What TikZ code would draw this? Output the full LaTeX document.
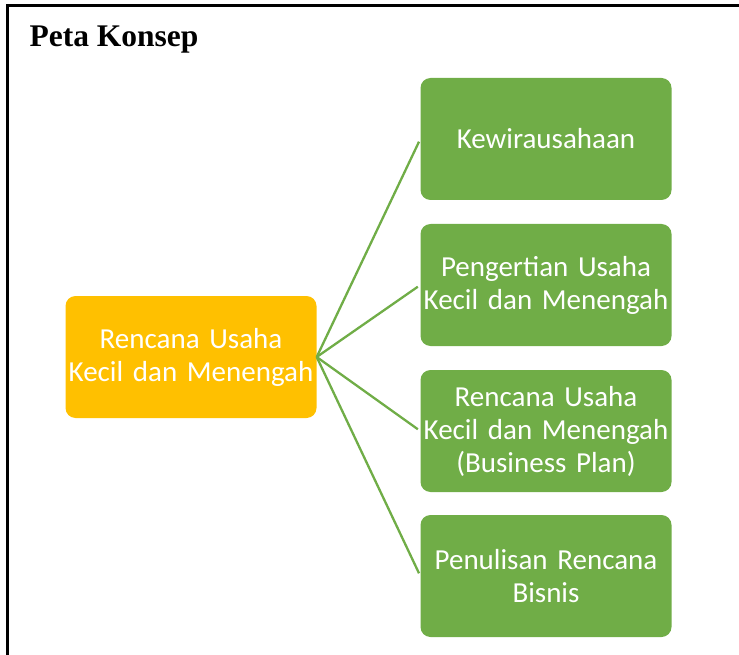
\documentclass[tikz,border=0pt]{standalone}
\usepackage{fontspec}
\setmainfont{Liberation Serif}
\newfontfamily\boxfont{Carlito}
\definecolor{leafgreen}{HTML}{70AD47}
\definecolor{amber}{HTML}{FFC000}
\begin{document}
\begin{tikzpicture}[x=1pt,y=-1pt,
  topicbox/.style={rounded corners=10pt, minimum width=251pt, minimum height=122pt,
    text width=245pt, align=center, text=white, inner sep=0pt,
    font=\boxfont\fontsize{29}{33}\selectfont},
  mainbox/.style={topicbox, fill=amber},
  subbox/.style={topicbox, fill=leafgreen},
  link/.style={draw=leafgreen, line width=2.3pt, shorten >=3pt}]
  \useasboundingbox (0,0) rectangle (739,655);
  % page frame (only top and left edges fall inside the page)
  \draw[line width=3pt] (7,700) -- (7,6) -- (760,6);
  \node[anchor=base west, font=\bfseries\fontsize{31.5}{35}\selectfont] (title) at (26,47) {Peta Konsep};
  % central topic
  \node[mainbox] (main) at (191,357) {Rencana Usaha\\Kecil dan Menengah};
  % sub topics
  \node[subbox] (k1) at (546,139) {Kewirausahaan};
  \node[subbox] (k2) at (546,285) {Pengertian Usaha\\Kecil dan Menengah};
  \node[subbox] (k3) at (546,431) {Rencana Usaha\\Kecil dan Menengah\\(Business Plan)};
  \node[subbox] (k4) at (546,576) {Penulisan Rencana\\Bisnis};
  % connectors
  \foreach \t in {k1,k2,k3,k4}
    \draw[link] (main.east) -- (\t.west);
\end{tikzpicture}
\end{document}
